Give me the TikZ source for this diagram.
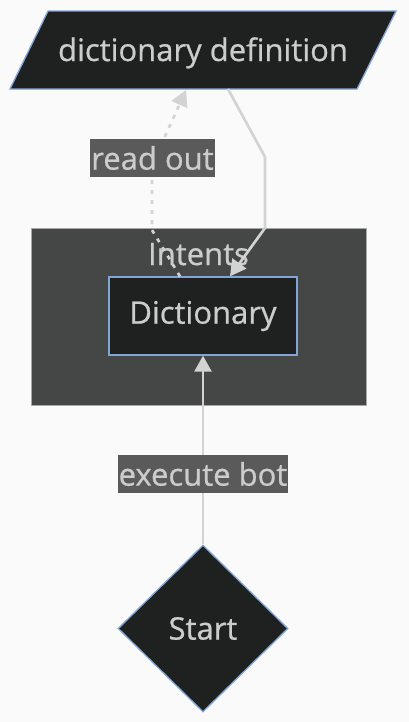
\documentclass[tikz,border=0pt]{standalone}
\usepackage{fontspec}
\setmainfont[FakeBold=0.7]{Open Sans}
\usetikzlibrary{shapes.geometric,arrows.meta,calc}
\definecolor{bgc}{HTML}{FAFAFA}
\definecolor{nodefill}{HTML}{1F2020}
\definecolor{nodeborder}{HTML}{81A6D6}
\definecolor{clusterc}{HTML}{454646}
\definecolor{clusterborder}{HTML}{A8A8A8}
\definecolor{labelc}{HTML}{5A5A5A}
\definecolor{txtc}{HTML}{CCCCCC}
\definecolor{linec}{HTML}{D3D3D3}
\begin{document}
\begin{tikzpicture}[x=0.75pt,y=-0.75pt,
  txt/.style={text=txtc, font=\fontsize{23.25}{28}\selectfont},
  nodebox/.style={draw=nodeborder, line width=1pt, fill=nodefill, txt},
  edge/.style={draw=linec, line width=2pt, -{Triangle[length=12pt,width=12.75pt]}},
  elabel/.style={fill=labelc, txt, inner ysep=0pt, inner xsep=0.75pt, minimum height=28.5pt},
]
\fill[bgc] (0,0) rectangle (409,722);
\useasboundingbox (0,0) rectangle (409,722);
% cluster
\draw[fill=clusterc, draw=clusterborder, line width=0.75pt] (31,228) rectangle (366,405);
\node[txt, anchor=base, inner sep=0pt] (intentslbl) at (198.5,265) {Intents};
% parallelogram
\draw[fill=nodefill, draw=nodeborder, line width=1pt] (48,11) -- (396,11) -- (357,89) -- (10,89) -- cycle;
\node[txt, anchor=base, inner sep=0pt] (def) at (203,61) {dictionary definition};
\coordinate (defout) at (228,89);
\coordinate (defin) at (186,90);
% nodes
\node[nodebox, minimum width=141pt, minimum height=58.5pt, inner sep=0pt] (dict) at (203,316) {Dictionary};
\node[nodebox, diamond, minimum width=127.5pt, minimum height=125.25pt, inner sep=0pt] (start) at (203,628.5) {Start};
\coordinate (dictin) at ($(dict.north)+(27,0)$);
\coordinate (dictout) at ($(dict.north)+(-23,0)$);
% edges
\draw[edge] (start.north) -- (dict.south);
\node[elabel] (lblexec) at (203,474) {execute bot};
\draw[edge] (defout) -- (265,157) -- (265,228) -- (dictin);
\draw[edge, dash pattern=on 3pt off 4.5pt] (dictout) -- (152,230) -- (152,165) -- (defin);
\node[elabel] (lblread) at (152.5,158) {read out};
\end{tikzpicture}
\end{document}
